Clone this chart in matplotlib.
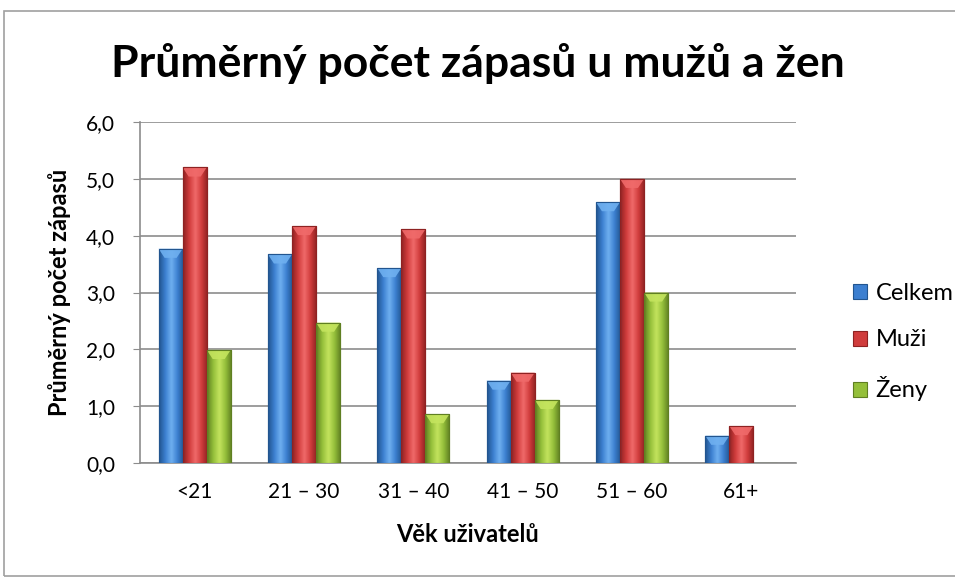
import matplotlib
matplotlib.use("Agg")
import matplotlib.pyplot as plt
import numpy as np
from matplotlib.colors import LinearSegmentedColormap
from matplotlib.patches import Polygon, Rectangle
from matplotlib.ticker import FuncFormatter

categories = ["<21", "21 – 30", "31 – 40", "41 – 50", "51 – 60", "61+"]
celkem = [3.77, 3.67, 3.43, 1.45, 4.59, 0.48]
muzi = [5.20, 4.17, 4.11, 1.59, 5.00, 0.65]
zeny = [1.99, 2.47, 0.86, 1.11, 3.00, 0.0]
series_names = ["Celkem", "Muži", "Ženy"]
series = [celkem, muzi, zeny]
colors = ["#3C7FD0", "#D03C3C", "#94BF3A"]
light = ["#6FB0F0", "#F06A6A", "#C4E45E"]
dark = ["#22558F", "#8E2222", "#5F7F22"]
title = "Průměrný počet zápasů u mužů a žen"
ylabel = "Průměrný počet zápasů"
xlabel = "Věk uživatelů"

plt.rcParams["font.family"] = ["Lato", "DejaVu Sans"]

fig = plt.figure(figsize=(9.55, 5.78), dpi=100)
ax = fig.add_axes([140/955, 1-463/578, 656/955, 341/578])

x = np.arange(len(categories))
w = 0.22
for i, (vals, name) in enumerate(zip(series, series_names)):
    cmap = LinearSegmentedColormap.from_list(
        "g%d" % i, [dark[i], colors[i], light[i], colors[i], dark[i]])
    bars = ax.bar(x + (i - 1) * w, vals, width=w, color=colors[i],
                  edgecolor=dark[i], linewidth=0.8, label=name, zorder=3)
    for b in bars:
        h = b.get_height()
        if h <= 0:
            continue
        x0, bw = b.get_x(), b.get_width()
        grad = np.linspace(0, 1, 64).reshape(1, -1)
        im = ax.imshow(grad, cmap=cmap, aspect="auto",
                       extent=(x0, x0 + bw, 0, h), zorder=3.5,
                       interpolation="bicubic")
        im.set_clip_path(b)
        th = 0.16
        tri = Polygon([(x0, h), (x0 + bw, h), (x0 + bw * 0.75, h - th),
                       (x0 + bw * 0.25, h - th)], closed=True,
                      facecolor=light[i], edgecolor="none", alpha=0.9, zorder=4)
        ax.add_patch(tri)
        ax.add_patch(Rectangle((x0, 0), bw, h, fill=False,
                               edgecolor=dark[i], linewidth=0.8, zorder=4.5))

ax.set_xlim(-0.5, len(categories) - 0.5)
ax.set_ylim(0, 6)
ax.set_yticks(np.arange(0, 6.01, 1.0))
ax.yaxis.set_major_formatter(FuncFormatter(lambda v, p: ("%.1f" % v).replace(".", ",")))
ax.set_xticks(x)
ax.set_xticklabels(categories)
ax.grid(axis="y", color="#8C8C8C", linewidth=1.2, zorder=0)
ax.set_axisbelow(True)
for s in ["top", "right"]:
    ax.spines[s].set_visible(False)
ax.spines["left"].set_color("#8C8C8C")
ax.spines["bottom"].set_color("#8C8C8C")
ax.spines["left"].set_linewidth(1.2)
ax.spines["bottom"].set_linewidth(1.2)
ax.tick_params(axis="y", length=5, color="#8C8C8C", labelsize=15, pad=13)
ax.tick_params(axis="x", length=0, labelsize=15, pad=14)

ax.set_ylabel(ylabel, fontsize=17, fontweight="bold", labelpad=11)
ax.set_xlabel(xlabel, fontsize=17, fontweight="bold", labelpad=15)
fig.text(0.5, 1 - 63/578, title, ha="center", va="center",
         fontsize=32, fontweight="bold")

leg = ax.legend(loc="center left", bbox_to_anchor=(832/955, 1 - 342/578),
                bbox_transform=fig.transFigure, frameon=False,
                fontsize=17, handlelength=0.6, handleheight=0.6,
                labelspacing=1.1, handletextpad=0.35)

fig.patches.append(Rectangle((4/955, 2/578), 960/955, 565/578, transform=fig.transFigure,
                             fill=False, edgecolor="#A0A0A0", linewidth=1.2))

fig.savefig("out.png", dpi=100)
